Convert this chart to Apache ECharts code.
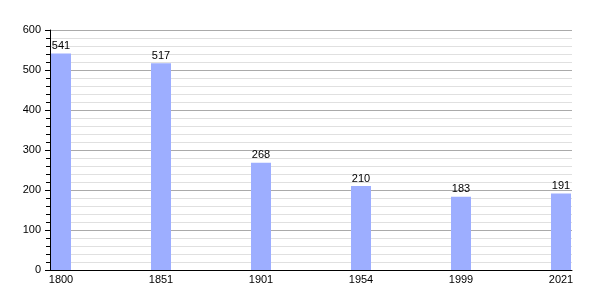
<!DOCTYPE html>
<html><head><meta charset="utf-8">
<script src="https://cdn.jsdelivr.net/npm/echarts@6/dist/echarts.min.js"></script>
<style>html,body{margin:0;padding:0;background:#fff}#c{width:600px;height:300px}</style>
</head><body><div id="c"></div>
<script>
const years = ['1800','1851','1901','1954','1999','2021'];
const population = [541, 517, 268, 210, 183, 191];
const yMin = 0, yMax = 600, yStep = 100;

const chart = echarts.init(document.getElementById('c'), null, {renderer:'canvas'});
const font = 'Liberation Sans, Arial, sans-serif';
chart.setOption({
  animation: false,
  backgroundColor: '#fff',
  grid: [
    {left: 11, width: 600, top: 30, bottom: 30, outerBoundsMode: 'none', containLabel: false},
    {left: 50, right: 28, top: 30, bottom: 30}
  ],
  xAxis: [
    {type: 'category', gridIndex: 0, data: years, boundaryGap: true,
     axisLine: {show: false}, axisTick: {show: false},
     axisLabel: {color: '#000', fontSize: 11, fontFamily: font, margin: 4}},
    {type: 'value', gridIndex: 1, min: 0, max: 1, show: true,
     axisLine: {show: true, onZero: false, lineStyle: {color: '#000', width: 1}},
     axisTick: {show: false}, axisLabel: {show: false}, splitLine: {show: false}}
  ],
  yAxis: [
    {type: 'value', gridIndex: 0, min: yMin, max: yMax, show: false},
    {type: 'value', gridIndex: 1, min: yMin, max: yMax, interval: yStep,
     axisLine: {show: true, lineStyle: {color: '#000', width: 1}},
     axisTick: {show: true, length: 5, lineStyle: {color: '#000'}},
     minorTick: {show: true, splitNumber: 5, length: 4, lineStyle: {color: '#000'}},
     splitLine: {show: true, lineStyle: {color: '#aaaaaa', width: 1}},
     minorSplitLine: {show: true, lineStyle: {color: '#e0e0e0', width: 1}},
     axisLabel: {color: '#000', fontSize: 11, fontFamily: font, margin: 9}}
  ],
  series: [{
    type: 'bar', xAxisIndex: 0, yAxisIndex: 0, data: population,
    barWidth: 20,
    itemStyle: {color: '#9daeff'},
    label: {show: true, position: 'top', color: '#000', fontSize: 11, fontFamily: font, distance: 2}
  }]
});
</script></body></html>
